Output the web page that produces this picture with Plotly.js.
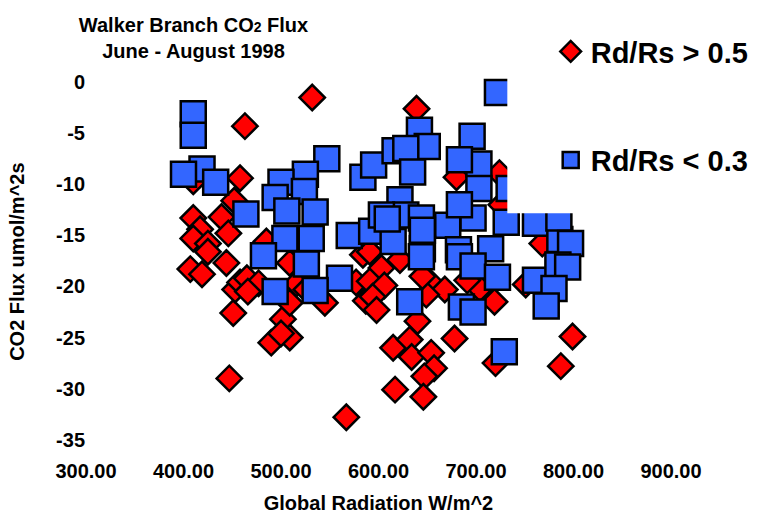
<!DOCTYPE html>
<html>
<head>
<meta charset="utf-8">
<script src="https://cdn.plot.ly/plotly-3.0.1.min.js"></script>
<style>html,body{margin:0;padding:0;background:#fff;}#chart{width:765px;height:514px;}</style>
</head>
<body>
<div id="chart"></div>
<script>
// Series: Rd/Rs > 0.5 (red diamonds)
const redX = [532,463,639,458,452,439,410,417,410,425,446,410,485,407,419,444,451,453,458,465,477,466,447,490,509,502,509,545,516,516,577,587,584,567,591,603,591,606,594,598,622,654,668,649,704,719,640,678,615,632,634,654,657,647,617,646,720,799,787,751,768,680,724,726,645,691,526,509,500,425];
const redY = [-1.5,-4.3,-2.6,-9.4,-11.6,-13.2,-13.3,-14.4,-15.3,-15.8,-14.8,-9.7,-15.6,-18.3,-18.8,-17.7,-22.6,-20.3,-19.6,-19.2,-19.7,-20.5,-29.0,-25.5,-25.0,-23.2,-21.6,-21.6,-18.3,-19.7,-19.6,-21.4,-16.9,-32.8,-16.6,-18.2,-19.5,-19.9,-21.0,-22.3,-17.4,-19.7,-20.3,-20.8,-20.2,-21.5,-23.4,-25.1,-26.0,-25.2,-26.9,-26.5,-28.0,-28.8,-30.1,-30.8,-27.5,-24.9,-27.8,-19.8,-15.8,-9.3,-8.9,-12.0,-19.0,-19.4,-20.3,-17.7,-24.6,-16.6];
// Series: Rd/Rs < 0.3 (blue squares)
const blueX = [410,410,419,400,433,547,525,500,494,524,464,506,535,504,531,482,570,584,595,593,526,560,494,535,722,642,650,617,628,635,696,703,683,703,734,622,628,603,671,697,683,731,761,786,785,645,682,715,644,797,615,644,683,697,722,761,784,794,780,772,632,685,697,729,609,645];
const blueY = [-3.1,-5.2,-8.5,-9.0,-9.8,-7.5,-9.0,-9.8,-11.3,-10.7,-12.9,-12.6,-12.7,-15.3,-15.3,-17.0,-15.0,-9.3,-8.1,-14.6,-17.8,-19.2,-20.5,-20.4,-1.0,-4.7,-6.3,-6.7,-6.5,-8.8,-5.3,-8.0,-7.6,-10.4,-10.4,-11.5,-13.0,-13.0,-14.0,-13.3,-12.0,-13.7,-13.8,-15.4,-13.3,-16.3,-16.4,-16.3,-13.3,-15.8,-15.6,-17.1,-17.1,-18.0,-19.1,-19.4,-17.9,-18.1,-20.2,-21.9,-21.5,-22.0,-22.5,-26.4,-13.4,-14.5];

const xTickVals = [300,400,500,600,700,800,900];
const xTickText = ['300.00','400.00','500.00','600.00','700.00','800.00','900.00'];
const yTickVals = [0,-5,-10,-15,-20,-25,-30,-35];
const yTickText = ['0','-5','-10','-15','-20','-25','-30','-35'];

const FONT = 'Liberation Sans, Arial, sans-serif';
const TXT = {family: FONT, size: 20, color: '#000000', weight: 'bold'};

const traces = [
  {
    x: redX, y: redY, type: 'scatter', mode: 'markers', name: 'Rd/Rs > 0.5',
    legendgroup: 'a', cliponaxis: false,
    marker: {symbol: 'diamond', size: 19.5, color: '#FF0000', line: {color: '#000000', width: 2.5}}
  },
  {
    x: blueX, y: blueY, type: 'scatter', mode: 'markers', name: 'Rd/Rs < 0.3',
    legendgroup: 'b', cliponaxis: false,
    marker: {symbol: 'square', size: 25, color: '#3366FF', line: {color: '#000000', width: 2.5}}
  }
];

const layout = {
  width: 765, height: 514,
  paper_bgcolor: '#ffffff', plot_bgcolor: '#ffffff',
  margin: {l: 85.8, r: 93.2, t: 71.5, b: 58.5, pad: 0},
  font: TXT,
  title: {
    text: 'Walker Branch CO<span style="font-size:14px">2</span> Flux<br>June - August 1998',
    font: TXT,
    x: 0.253, xref: 'container', xanchor: 'center',
    y: 0.938, yref: 'container', yanchor: 'top'
  },
  xaxis: {
    range: [300, 900], showgrid: false, zeroline: false, showline: false, ticks: '',
    tickvals: xTickVals, ticktext: xTickText,
    tickfont: TXT,
    ticklabelstandoff: 2,
    title: {text: 'Global Radiation W/m^2', standoff: 23, font: TXT}
  },
  yaxis: {
    range: [-36.5, 1], showgrid: false, zeroline: false, showline: false, ticks: '',
    tickvals: yTickVals, ticktext: yTickText,
    tickfont: TXT,
    ticklabelstandoff: 15.5
  },
  annotations: [
    {text: 'CO2 Flux umol/m^2s', textangle: -90, showarrow: false,
     xref: 'paper', yref: 'paper', x: -0.1182, y: 0.504, xanchor: 'center', yanchor: 'middle',
     font: TXT}
  ],
  showlegend: true,
  legend: {
    x: 0.793, xref: 'paper', xanchor: 'left',
    y: 1.12, yref: 'paper', yanchor: 'top',
    bgcolor: 'rgba(255,255,255,0)', borderwidth: 0,
    font: {family: FONT, size: 29, color: '#000000', weight: 'bold'},
    traceorder: 'grouped', tracegroupgap: 68
  },
  shapes: [
    {type: 'rect', xref: 'paper', yref: 'paper', x0: 0.7202, x1: 1.3, y0: 0.6315, y1: 1.4,
     fillcolor: '#ffffff', line: {width: 0}, layer: 'above'}
  ]
};

Plotly.newPlot('chart', traces, layout, {displayModeBar: false, staticPlot: true});
</script>
</body>
</html>
